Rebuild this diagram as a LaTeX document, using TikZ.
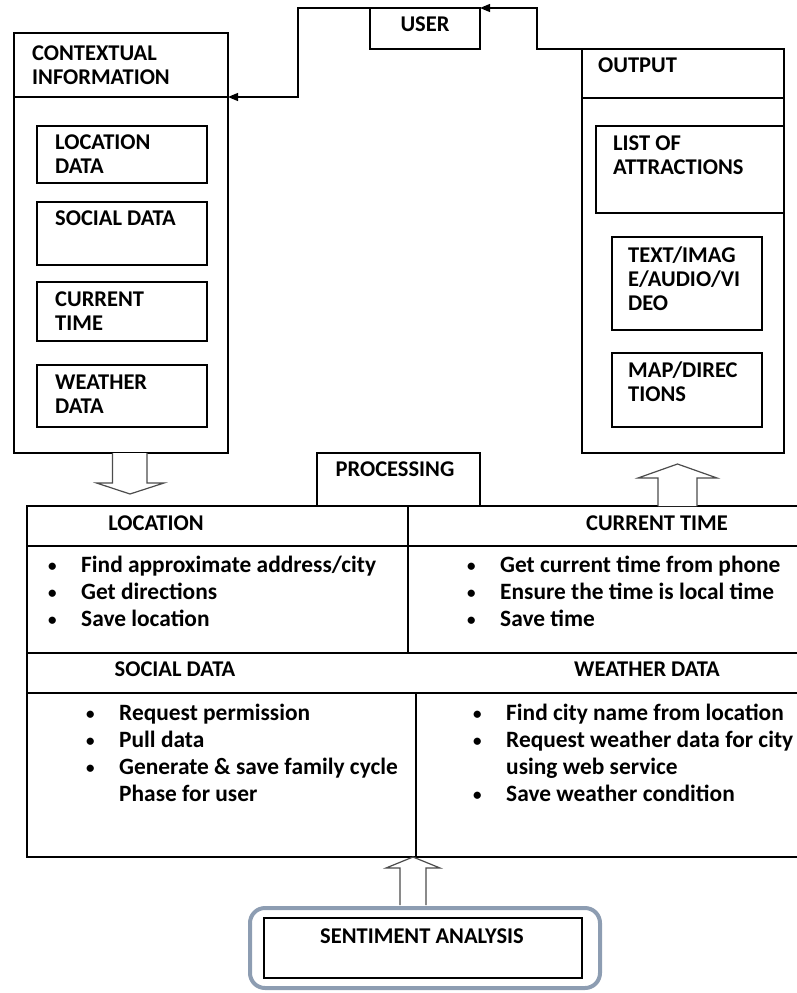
\documentclass[tikz,border=0pt]{standalone}
\usepackage{fontspec}
\setmainfont{Carlito}
\usetikzlibrary{
	arrows.meta,
	positioning,
	calc
}
\definecolor{frameblue}{HTML}{8D9DB2}
\newcommand{\firstln}{\rule{0pt}{18pt}}
\newcommand{\bul}{\makebox[33pt][l]{\raisebox{1pt}{\fontsize{17}{17}\selectfont\textbullet}}}
\newcommand{\nobul}{\makebox[33pt][l]{}}

\begin{document}
\begin{tikzpicture}[
			x=1pt, y=-1pt,
			font=\fontsize{22.5}{24}\selectfont\bfseries,
			box/.style={draw, line width=1.2pt, inner sep=0pt, outer sep=0pt, anchor=north west},
			lbl/.style={anchor=north west, inner sep=0pt, align=left},
			hd/.style={inner sep=0pt},
			lst/.style={anchor=north west, inner sep=0pt, align=left, font=\fontsize{23.4}{27}\selectfont\bfseries},
			>={Triangle[length=10pt,width=8pt]},
			fl/.style={->, line width=1.2pt},
			hollow/.style={draw=black!70, line width=1.2pt, fill=white, line join=miter},
			senti/.style={draw=frameblue, line width=4pt, rounded corners=15pt, inner sep=0pt, outer sep=0pt}
		]
		\useasboundingbox (0,0) rectangle (797,993);
		\clip (0,0) rectangle (797,993);

		% user
		\node[box, minimum width=110pt, minimum height=41pt] (user) at (370,8) {};
		\node[hd] (userT) at (425,24) {USER};

		% contextual information
		\node[box, minimum width=214pt, minimum height=64pt] (ctx) at (14,33) {};
		\node[box, minimum width=214pt, minimum height=356pt, below=0pt of ctx] (ctxbody) {};
		\node[lbl] (ctxT) at ([shift={(18,9)}]ctx.north west) {\firstln CONTEXTUAL\\INFORMATION};

		\node[box, minimum width=170pt, minimum height=57pt] (locdata) at (37,126) {};
		\node[box, minimum width=170pt, minimum height=63pt, below=19pt of locdata] (socdata) {};
		\node[box, minimum width=170pt, minimum height=59pt, below=17pt of socdata] (curtime) {};
		\node[box, minimum width=170pt, minimum height=62pt, below=24pt of curtime] (weadata) {};
		\node[lbl] (locdataT) at ([shift={(18,5)}]locdata.north west) {\firstln LOCATION\\DATA};
		\node[lbl] (socdataT) at ([shift={(18,5)}]socdata.north west) {\firstln SOCIAL DATA};
		\node[lbl] (curtimeT) at ([shift={(18,6)}]curtime.north west) {\firstln CURRENT\\TIME};
		\node[lbl] (weadataT) at ([shift={(18,6)}]weadata.north west) {\firstln WEATHER\\DATA};

		% output
		\node[box, minimum width=202pt, minimum height=49pt] (outhead) at (582,49) {};
		\node[box, minimum width=202pt, minimum height=355pt, below=0pt of outhead] (outbody) {};
		\node[lbl] (outheadT) at ([shift={(16,5)}]outhead.north west) {\firstln OUTPUT};

		\node[box, minimum width=188pt, minimum height=87pt] (attr) at (596,126) {};
		\node[box, minimum width=150pt, minimum height=93pt] (media) at (612,237) {};
		\node[box, minimum width=150pt, minimum height=74pt, below=23pt of media] (mapdir) {};
		\node[lbl] (attrT) at ([shift={(17,6)}]attr.north west) {\firstln LIST OF\\ATTRACTIONS};
		\node[lbl] (mediaT) at ([shift={(16,7)}]media.north west) {\firstln TEXT/IMAG\\E/AUDIO/VI\\DEO};
		\node[lbl] (mapdirT) at ([shift={(16,6)}]mapdir.north west) {\firstln MAP/DIREC\\TIONS};

		% processing
		\node[box, minimum width=163pt, minimum height=53pt] (proc) at (317,453) {};
		\node[hd] (procT) at (395,469) {PROCESSING};

		\node[box, minimum width=381pt, minimum height=40pt] (lochead) at (27,506) {};
		\node[box, minimum width=381pt, minimum height=107pt, below=0pt of lochead] (locbody) {};
		\node[box, minimum width=391pt, minimum height=40pt] (timehead) at (408,506) {};
		\node[box, minimum width=391pt, minimum height=107pt, below=0pt of timehead] (timebody) {};
		\node[box, minimum width=772pt, minimum height=40pt] (midhead) at (27,653) {};
		\node[box, minimum width=389pt, minimum height=164pt] (socbody) at (27,693) {};
		\node[box, minimum width=383pt, minimum height=164pt] (weabody) at (416,693) {};

		\node[hd] (locheadT) at (156,523) {LOCATION};
		\node[hd] (timeheadT) at (657,523) {CURRENT TIME};
		\node[hd] (socheadT) at (175,669) {SOCIAL DATA};
		\node[hd] (weaheadT) at (647,669) {WEATHER DATA};

		\node[lst] (locL) at (48,554) {\firstln\bul Find approximate address/city\\ \bul Get directions\\ \bul Save location};
		\node[lst] (timeL) at (467,554) {\firstln\bul Get current time from phone\\ \bul Ensure the time is local time\\ \bul Save time};
		\node[lst] (socL) at (86,702) {\firstln\bul Request permission\\ \bul Pull data\\ \bul Generate \& save family cycle\\ \nobul Phase for user};
		\node[lst] (weaL) at (473,702) {\firstln\bul Find city name from location\\ \bul Request weather data for city\\ \nobul using web service\\ \bul Save weather condition};

		% sentiment analysis
		\node[senti, minimum width=350pt, minimum height=80pt, anchor=north west] (sentout) at (250,908) {};
		\node[box, minimum width=318pt, minimum height=60pt] (senti) at (264,918) {};
		\node[hd] (sentiT) at (422,936) {SENTIMENT ANALYSIS};

		\draw[fl] (outhead.north west) -- ++(-45,0) |- (user.north east);
		\draw[fl] (user.north west) -- ++(-72,0) |- (ctx.south east);

		% hollow block arrows
		\coordinate (dnTop) at ([xshift=9pt]ctxbody.south);
		\coordinate (dnTip) at ([yshift=-41pt]dnTop);
		\draw[hollow] (dnTop) ++(-17.5,0) -- ++(0,30) -- ++(-16,0) -- (dnTip) -- ++(34,-11) -- ++(-17,0) -- ++(0,-30);

		\coordinate (upBot) at (timehead.north -| 677.5,0);
		\coordinate (upTip) at ([yshift=42pt]upBot);
		\draw[hollow] (upBot) ++(-19.5,0) -- ++(0,-28) -- ++(-20,0) -- (upTip) -- ++(39.5,14) -- ++(-20,0) -- ++(0,28);

		\coordinate (sTip) at ([xshift=-3pt]socbody.south east);
		\coordinate (sBot) at ([yshift=-48pt]sTip);
		\draw[hollow] (sBot) ++(-13,0) -- ++(0,-37) -- ++(-14,0) -- (sTip) -- ++(27,11) -- ++(-14,0) -- ++(0,37);
	\end{tikzpicture}
\end{document}
